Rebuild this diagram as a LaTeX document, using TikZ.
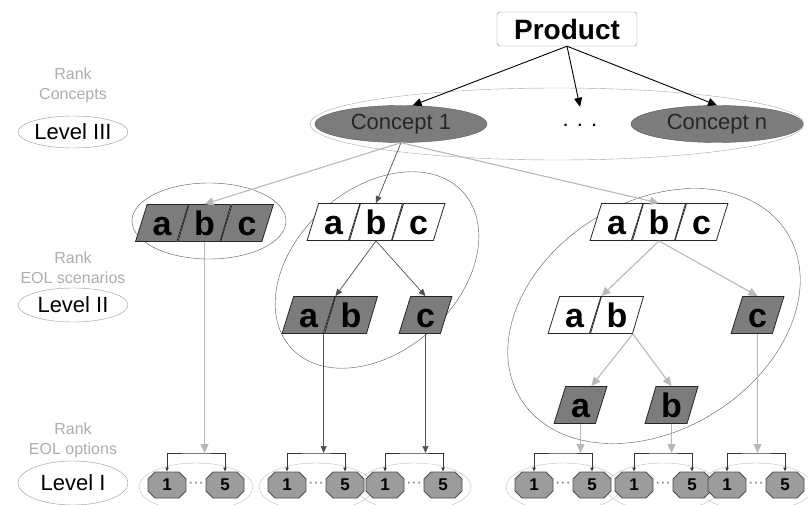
\documentclass[tikz,border=0pt]{standalone}
\usepackage{fontspec}
\setmainfont{Liberation Sans}
\usetikzlibrary{shapes.geometric,shapes.misc,arrows.meta,positioning,calc}

\definecolor{cellgray}{HTML}{7C7C7C}
\definecolor{optgray}{HTML}{9C9C9C}
\definecolor{linedark}{HTML}{505050}
\definecolor{linelight}{HTML}{B8B8B8}
\definecolor{ranktxt}{HTML}{ADADAD}

\newcommand{\fsz}[1]{\fontsize{#1}{#1}\selectfont}

\tikzset{
  cell/.style={trapezium, trapezium left angle=73, trapezium right angle=107,
    trapezium stretches=true, minimum width=53, minimum height=37, inner sep=0pt,
    draw=black!85, line width=0.8pt, font=\fsz{34}\bfseries,
    text height=24pt, text depth=0pt},
  darkcell/.style={cell, fill=cellgray},
  whitecell/.style={cell, fill=white},
  concept/.style={ellipse, minimum width=172, minimum height=37, inner sep=0pt,
    fill=cellgray, draw=black!65, font=\fsz{22}, text=black!85},
  levelbox/.style={ellipse, draw=black!40, minimum width=110, minimum height=32,
    inner sep=0pt, font=\fsz{22}},
  rank/.style={text=ranktxt, align=center, font=\fontsize{16}{20}\selectfont},
  option/.style={chamfered rectangle, chamfered rectangle xsep=3.5pt,
    chamfered rectangle ysep=3.5pt, minimum width=38, minimum height=26,
    inner sep=0pt, fill=optgray, draw=black!70, line width=0.8pt,
    font=\fsz{17}\bfseries},
  toparrow/.style={-{Triangle[length=9pt,width=8pt]}, line width=0.9pt, black},
  darkarrow/.style={-{Triangle[length=7pt,width=6pt]}, line width=0.7pt, linedark},
  lightarrow/.style={-{Triangle[length=9pt,width=8pt]}, line width=1.1pt, linelight},
  bracket/.style={{Latex[length=4pt,width=4pt]}-{Latex[length=4pt,width=4pt]},
    line width=0.9pt, black!80}
}

\begin{document}
\begin{tikzpicture}[x=1pt,y=-1pt]
  \useasboundingbox (0,0) rectangle (808,505);

  % Rang und Ebenen links
  \node[rank] (rk3) at (73,85) {Rank\\Concepts};
  \node[levelbox] (lv3) at (73,132) {Level III};
  \node[rank] (rk2) at (73,268) {Rank\\EOL scenarios};
  \node[levelbox, minimum height=34] (lv2) at (73,305) {Level II};
  \node[rank] (rk1) at (73,440) {Rank\\EOL options};
  \node[levelbox, minimum height=44] (lv1) at (73,483) {Level I};

  % Gruppierungen
  \draw[black!35] (557,124) ellipse [x radius=247, y radius=36];
  \draw[black!65] (209,221) ellipse [x radius=77, y radius=38];
  \draw[black!65, rotate around={42:(377,270)}] (377,270) ellipse [x radius=116, y radius=81];
  \draw[black!65, rotate around={32:(654,316)}] (654,316) ellipse [x radius=157, y radius=114];
  \foreach \cx in {196,316,414,563,663,756}
    \draw[black!25] (\cx,487) ellipse [x radius=57, y radius=24];

  % Level III
  \node[draw=black!45, rounded corners=3pt, minimum width=140, minimum height=34,
    inner sep=0pt, font=\fsz{28}\bfseries] (prod) at (567,29) {Product};
  \node[concept] (c1) at (401,124) {Concept 1};
  \node[font=\fsz{22}, minimum height=36, inner sep=0pt] (cdots) at (580,125) {. . .};
  \node[concept] (cn) at (717,124) {Concept n};

  \draw[toparrow] (prod.south) -- (c1.58);
  \draw[toparrow] (prod.south) -- (cdots.north);
  \draw[toparrow] (prod.south) -- (cn.north);

  % Level II
  \node[darkcell] (g1a) at (162,223) {a};
  \node[darkcell, anchor=left side] (g1b) at (g1a.right side) {b};
  \node[darkcell, anchor=left side] (g1c) at (g1b.right side) {c};

  \node[whitecell] (g2a) at (333.5,222) {a};
  \node[whitecell, anchor=left side] (g2b) at (g2a.right side) {b};
  \node[whitecell, anchor=left side] (g2c) at (g2b.right side) {c};
  \node[darkcell] (g2d) at (308.5,315) {a};
  \node[darkcell, anchor=left side] (g2e) at (g2d.right side) {b};
  \node[darkcell] (g2f) at (425.5,315) {c};

  \node[whitecell] (g3a) at (616.5,222) {a};
  \node[whitecell, anchor=left side] (g3b) at (g3a.right side) {b};
  \node[whitecell, anchor=left side] (g3c) at (g3b.right side) {c};
  \node[whitecell] (g3d) at (574.5,315) {a};
  \node[whitecell, anchor=left side] (g3e) at (g3d.right side) {b};
  \node[darkcell] (g3f) at (757.5,315) {c};
  \node[darkcell] (g3g) at (580.5,405) {a};
  \node[darkcell] (g3h) at (671.5,405) {b};

  \draw[lightarrow] (c1.south) -- (g1b.north);
  \draw[darkarrow] (c1.south) -- (g2b.north);
  \draw[lightarrow] (c1.south) -- (g3b.north);

  \draw[darkarrow] (g2b.south) -- (g2d.top right corner);
  \draw[darkarrow] (g2b.south) -- (g2f.north);

  \draw[lightarrow] (g3b.south) -- (g3d.top right corner);
  \draw[lightarrow] (g3b.south) -- (g3f.north);
  \draw[lightarrow] (g3e.bottom right corner) -- (g3g.60);
  \draw[lightarrow] (g3e.bottom right corner) -- (g3h.north);

  % Level I
  \foreach \cx/\k in {196/1,316/2,414/3,563/4,663/5,756/6} {
    \node[option] (one\k) at (\cx-29,485) {1};
    \node[text=black!55, font=\fsz{16}, inner sep=0pt] (dots\k) at (\cx,485) {···};
    \node[option] (five\k) at (\cx+29,485) {5};
    \coordinate (bar\k) at (\cx,453);
    \draw[bracket] (one\k.north) |- (bar\k) -| (five\k.north);
  }

  \draw[lightarrow] (g1b.south) -- (g1b.south |- bar1);
  \draw[darkarrow] (g2d.bottom right corner) -- (g2d.bottom right corner |- bar2);
  \draw[darkarrow] (g2f.south) -- (g2f.south |- bar3);
  \draw[lightarrow] (g3g.south) -- (g3g.south |- bar4);
  \draw[lightarrow] (g3h.south) -- (g3h.south |- bar5);
  \draw[lightarrow] (g3f.south) -- (g3f.south |- bar6);
\end{tikzpicture}
\end{document}
